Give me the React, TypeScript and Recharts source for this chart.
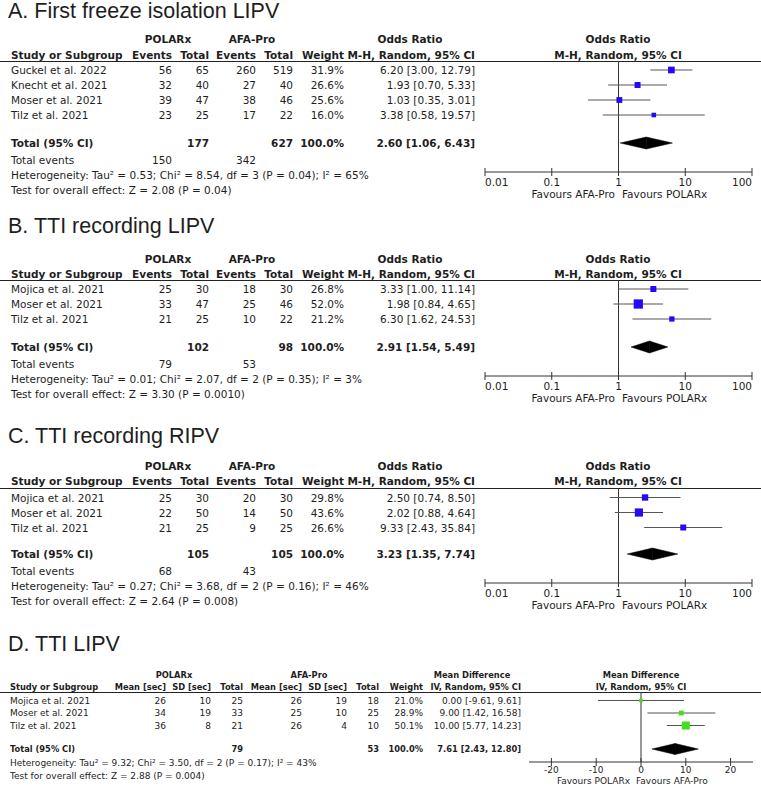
import React from 'react'
import { ScatterChart, Scatter, XAxis, YAxis, ReferenceLine, ReferenceArea, ErrorBar } from 'recharts'

const FONT = '"DejaVu Sans", Verdana, sans-serif'
const TITLE_FONT = '"Liberation Sans", Arial, sans-serif'
const INK = '#1e1e1e'

// A. First freeze isolation LIPV
const studiesA = ['Guckel et al. 2022', 'Knecht et al. 2021', 'Moser et al. 2021', 'Tilz et al. 2021']
const polarEventsA = [56, 32, 39, 23]
const polarTotalA = [65, 40, 47, 25]
const afaEventsA = [260, 27, 38, 17]
const afaTotalA = [519, 40, 46, 22]
const weightA = [31.9, 26.6, 25.6, 16.0]
const orA = [6.2, 1.93, 1.03, 3.38]
const loA = [3.0, 0.7, 0.35, 0.58]
const hiA = [12.79, 5.33, 3.01, 19.57]
const pooledA = [2.6, 1.06, 6.43]
const totalsA = [177, 627]
const totalEventsA = [150, 342]
const hetA = 'Heterogeneity: Tau² = 0.53; Chi² = 8.54, df = 3 (P = 0.04); I² = 65%'
const testA = 'Test for overall effect: Z = 2.08 (P = 0.04)'

// B. TTI recording LIPV
const studiesB = ['Mojica et al. 2021', 'Moser et al. 2021', 'Tilz et al. 2021']
const polarEventsB = [25, 33, 21]
const polarTotalB = [30, 47, 25]
const afaEventsB = [18, 25, 10]
const afaTotalB = [30, 46, 22]
const weightB = [26.8, 52.0, 21.2]
const orB = [3.33, 1.98, 6.3]
const loB = [1.0, 0.84, 1.62]
const hiB = [11.14, 4.65, 24.53]
const pooledB = [2.91, 1.54, 5.49]
const totalsB = [102, 98]
const totalEventsB = [79, 53]
const hetB = 'Heterogeneity: Tau² = 0.01; Chi² = 2.07, df = 2 (P = 0.35); I² = 3%'
const testB = 'Test for overall effect: Z = 3.30 (P = 0.0010)'

// C. TTI recording RIPV
const studiesC = ['Mojica et al. 2021', 'Moser et al. 2021', 'Tilz et al. 2021']
const polarEventsC = [25, 22, 21]
const polarTotalC = [30, 50, 25]
const afaEventsC = [20, 14, 9]
const afaTotalC = [30, 50, 25]
const weightC = [29.8, 43.6, 26.6]
const orC = [2.5, 2.02, 9.33]
const loC = [0.74, 0.88, 2.43]
const hiC = [8.5, 4.64, 35.84]
const pooledC = [3.23, 1.35, 7.74]
const totalsC = [105, 105]
const totalEventsC = [68, 43]
const hetC = 'Heterogeneity: Tau² = 0.27; Chi² = 3.68, df = 2 (P = 0.16); I² = 46%'
const testC = 'Test for overall effect: Z = 2.64 (P = 0.008)'

// D. TTI LIPV (mean difference)
const studiesD = ['Mojica et al. 2021', 'Moser et al. 2021', 'Tilz et al. 2021']
const polarMeanD = [26, 34, 36]
const polarSdD = [10, 19, 8]
const polarTotalD = [25, 33, 21]
const afaMeanD = [26, 25, 26]
const afaSdD = [19, 10, 4]
const afaTotalD = [18, 25, 10]
const weightD = [21.0, 28.9, 50.1]
const mdD = [0.0, 9.0, 10.0]
const loD = [-9.61, 1.42, 5.77]
const hiD = [9.61, 16.58, 14.23]
const pooledD = [7.61, 2.43, 12.8]
const totalsD = [79, 53]
const hetD = 'Heterogeneity: Tau² = 9.32; Chi² = 3.50, df = 2 (P = 0.17); I² = 43%'
const testD = 'Test for overall effect: Z = 2.88 (P = 0.004)'

const orTicks = [0.01, 0.1, 1, 10, 100]
const mdTicks = [-20, -10, 0, 10, 20]

const ci = (e: number, l: number, h: number) => `${e.toFixed(2)} [${l.toFixed(2)}, ${h.toFixed(2)}]`
const pct = (w: number) => `${w.toFixed(1)}%`

function T({ x, y, a = 'l', b = false, s = 10.5, f = FONT, children }: any) {
  const tx = a === 'r' ? '-100%' : a === 'c' ? '-50%' : '0'
  return (
    <div
      style={{
        position: 'absolute', left: x, top: y, transform: `translate(${tx},-50%)`,
        whiteSpace: 'nowrap', lineHeight: 1, fontSize: s, fontFamily: f,
        fontWeight: b ? 'bold' : 'normal', color: INK
      }}
    >
      {children}
    </div>
  )
}

const HLine = ({ y }: { y: number }) => (
  <div style={{ position: 'absolute', left: 0, top: y, width: 761, height: 1, background: '#222' }} />
)

const leftHalf = (r: any) => (
  <polygon points={`${r.x},${r.y + r.height / 2} ${r.x + r.width},${r.y} ${r.x + r.width},${r.y + r.height}`} fill="#000" stroke="#000" strokeWidth={0.5} />
)
const rightHalf = (r: any) => (
  <polygon points={`${r.x},${r.y} ${r.x + r.width},${r.y + r.height / 2} ${r.x},${r.y + r.height}`} fill="#000" stroke="#000" strokeWidth={0.5} />
)

function Forest(p: any) {
  const M = 24
  const AX = 26
  const plotH = p.axisY - p.top
  const data = p.est.map((v: number, i: number) => ({ x: v, y: i, w: p.weight[i], err: [v - p.lo[i], p.hi[i] - v] }))
  const yTop = (p.top - p.firstRow) / p.step
  const yBottom = (p.axisY - p.firstRow) / p.step
  const yTotal = (p.totalY - p.firstRow) / p.step
  const h = p.halfH / p.step
  const [pe, pl, ph] = p.pooled
  const n = p.ticks.length

  const tick = (t: any) => {
    const anchor = p.edgeAnchor ? (t.index === 0 ? 'start' : t.index === n - 1 ? 'end' : 'middle') : 'middle'
    return (
      <g>
        <line x1={t.x} x2={t.x} y1={t.y - 4} y2={t.y + 4} stroke="#333" />
        <text x={t.x} y={t.y + p.labelDy} textAnchor={anchor} dominantBaseline="central" fontSize={p.fs} fontFamily={FONT} fill={INK}>
          {String(t.payload.value)}
        </text>
      </g>
    )
  }

  return (
    <div style={{ position: 'absolute', left: p.left - M, top: p.top }}>
      <ScatterChart width={p.right - p.left + 2 * M} height={plotH + AX} margin={{ top: 0, right: M, bottom: 0, left: M }}>
        <XAxis
          type="number" dataKey="x" scale={p.log ? 'log' : 'linear'} domain={p.domain} ticks={p.ticks}
          allowDataOverflow interval={0} tickLine={false} tickSize={0} tickMargin={0} height={AX}
          stroke="#333" tick={tick}
        />
        <YAxis type="number" dataKey="y" domain={[yTop, yBottom]} reversed hide allowDataOverflow />
        <ReferenceLine x={p.nullValue} stroke="#333" />
        <ReferenceArea x1={pl} x2={pe} y1={yTotal - h} y2={yTotal + h} shape={leftHalf} />
        <ReferenceArea x1={pe} x2={ph} y1={yTotal - h} y2={yTotal + h} shape={rightHalf} />
        <Scatter
          data={data}
          isAnimationActive={false}
          shape={(s: any) => {
            const d = p.side(s.payload.w)
            return <rect x={s.cx - d / 2} y={s.cy - d / 2} width={d} height={d} fill={p.color} />
          }}
        >
          <ErrorBar dataKey="err" direction="x" width={0} stroke="#555" strokeWidth={1} isAnimationActive={false} />
        </Scatter>
      </ScatterChart>
    </div>
  )
}

// binary (odds ratio) panel columns, right edges
const COL = { study: 11, pEv: 172, pTot: 209, aEv: 256, aTot: 293, wt: 344, ci: 475 }

function OddsPanel(p: any) {
  const y0 = p.lineY
  const rowY = (i: number) => p.firstRow + i * 15
  return (
    <>
      <T x={8} y={p.titleY} s={21.5} f={TITLE_FONT}>{p.title}</T>
      <T x={168} y={p.h1} a="c" b>POLARx</T>
      <T x={252} y={p.h1} a="c" b>AFA-Pro</T>
      <T x={410} y={p.h1} a="c" b>Odds Ratio</T>
      <T x={618} y={p.h1} a="c" b>Odds Ratio</T>
      <T x={COL.study} y={p.h2} b>Study or Subgroup</T>
      <T x={COL.pEv} y={p.h2} a="r" b>Events</T>
      <T x={COL.pTot} y={p.h2} a="r" b>Total</T>
      <T x={COL.aEv} y={p.h2} a="r" b>Events</T>
      <T x={COL.aTot} y={p.h2} a="r" b>Total</T>
      <T x={COL.wt} y={p.h2} a="r" b>Weight</T>
      <T x={COL.ci} y={p.h2} a="r" b>M-H, Random, 95% CI</T>
      <T x={618} y={p.h2} a="c" b>M-H, Random, 95% CI</T>
      <HLine y={y0} />
      {p.studies.map((s: string, i: number) => (
        <React.Fragment key={s}>
          <T x={COL.study} y={rowY(i)}>{s}</T>
          <T x={COL.pEv} y={rowY(i)} a="r">{p.pe[i]}</T>
          <T x={COL.pTot} y={rowY(i)} a="r">{p.pt[i]}</T>
          <T x={COL.aEv} y={rowY(i)} a="r">{p.ae[i]}</T>
          <T x={COL.aTot} y={rowY(i)} a="r">{p.at[i]}</T>
          <T x={COL.wt} y={rowY(i)} a="r">{pct(p.w[i])}</T>
          <T x={COL.ci} y={rowY(i)} a="r">{ci(p.est[i], p.lo[i], p.hi[i])}</T>
        </React.Fragment>
      ))}
      <T x={COL.study} y={p.totalY} b>Total (95% CI)</T>
      <T x={COL.pTot} y={p.totalY} a="r" b>{p.totals[0]}</T>
      <T x={COL.aTot} y={p.totalY} a="r" b>{p.totals[1]}</T>
      <T x={COL.wt} y={p.totalY} a="r" b>100.0%</T>
      <T x={COL.ci} y={p.totalY} a="r" b>{ci(p.pooled[0], p.pooled[1], p.pooled[2])}</T>
      <T x={COL.study} y={p.totalY + 16.5}>Total events</T>
      <T x={COL.pEv} y={p.totalY + 16.5} a="r">{p.totalEvents[0]}</T>
      <T x={COL.aEv} y={p.totalY + 16.5} a="r">{p.totalEvents[1]}</T>
      <T x={COL.study} y={p.totalY + 31.5}>{p.het}</T>
      <T x={COL.study} y={p.totalY + 46.5}>{p.test}</T>
      <Forest
        left={485} right={752} top={y0} axisY={p.axisY} firstRow={p.firstRow} step={15} totalY={p.totalY}
        est={p.est} lo={p.lo} hi={p.hi} weight={p.w} pooled={p.pooled}
        log domain={[0.01, 100]} ticks={orTicks} nullValue={1} color="#2408f8"
        side={(w: number) => 2.5 + 0.13 * w} halfH={6} fs={10.5} labelDy={10} edgeAnchor
      />
      <T x={615} y={p.axisY + 22} a="r">Favours AFA-Pro</T>
      <T x={622} y={p.axisY + 22}>Favours POLARx</T>
    </>
  )
}

const DCOL = { study: 10, pM: 166, pSd: 211, pTot: 243, aM: 302, aSd: 347, aTot: 379, wt: 423, ci: 521 }

function MeanPanel() {
  const s = 9
  const sb = 8.3
  const lineY = 692
  const firstRow = 700.5
  const step = 12.5
  const totalY = 749
  const axisY = 762
  const h1 = 674.5
  const h2 = 687
  const rowY = (i: number) => firstRow + i * step
  return (
    <>
      <T x={8} y={644.5} s={21.5} f={TITLE_FONT}>D. TTI LIPV</T>
      <T x={174} y={h1} a="c" b s={sb}>POLARx</T>
      <T x={309} y={h1} a="c" b s={sb}>AFA-Pro</T>
      <T x={472} y={h1} a="c" b s={sb}>Mean Difference</T>
      <T x={641} y={h1} a="c" b s={sb}>Mean Difference</T>
      <T x={DCOL.study} y={h2} b s={sb}>Study or Subgroup</T>
      <T x={DCOL.pM} y={h2} a="r" b s={sb}>Mean [sec]</T>
      <T x={DCOL.pSd} y={h2} a="r" b s={sb}>SD [sec]</T>
      <T x={DCOL.pTot} y={h2} a="r" b s={sb}>Total</T>
      <T x={DCOL.aM} y={h2} a="r" b s={sb}>Mean [sec]</T>
      <T x={DCOL.aSd} y={h2} a="r" b s={sb}>SD [sec]</T>
      <T x={DCOL.aTot} y={h2} a="r" b s={sb}>Total</T>
      <T x={DCOL.wt} y={h2} a="r" b s={sb}>Weight</T>
      <T x={DCOL.ci} y={h2} a="r" b s={sb}>IV, Random, 95% CI</T>
      <T x={641} y={h2} a="c" b s={sb}>IV, Random, 95% CI</T>
      <HLine y={lineY} />
      {studiesD.map((st, i) => (
        <React.Fragment key={st}>
          <T x={DCOL.study} y={rowY(i)} s={s}>{st}</T>
          <T x={DCOL.pM} y={rowY(i)} a="r" s={s}>{polarMeanD[i]}</T>
          <T x={DCOL.pSd} y={rowY(i)} a="r" s={s}>{polarSdD[i]}</T>
          <T x={DCOL.pTot} y={rowY(i)} a="r" s={s}>{polarTotalD[i]}</T>
          <T x={DCOL.aM} y={rowY(i)} a="r" s={s}>{afaMeanD[i]}</T>
          <T x={DCOL.aSd} y={rowY(i)} a="r" s={s}>{afaSdD[i]}</T>
          <T x={DCOL.aTot} y={rowY(i)} a="r" s={s}>{afaTotalD[i]}</T>
          <T x={DCOL.wt} y={rowY(i)} a="r" s={s}>{pct(weightD[i])}</T>
          <T x={DCOL.ci} y={rowY(i)} a="r" s={s}>{ci(mdD[i], loD[i], hiD[i])}</T>
        </React.Fragment>
      ))}
      <T x={DCOL.study} y={totalY} b s={sb}>Total (95% CI)</T>
      <T x={DCOL.pTot} y={totalY} a="r" b s={sb}>{totalsD[0]}</T>
      <T x={DCOL.aTot} y={totalY} a="r" b s={sb}>{totalsD[1]}</T>
      <T x={DCOL.wt} y={totalY} a="r" b s={sb}>100.0%</T>
      <T x={DCOL.ci} y={totalY} a="r" b s={sb}>{ci(pooledD[0], pooledD[1], pooledD[2])}</T>
      <T x={DCOL.study} y={762.5} s={s}>{hetD}</T>
      <T x={DCOL.study} y={775.5} s={s}>{testD}</T>
      <Forest
        left={529} right={753} top={lineY} axisY={axisY} firstRow={firstRow} step={step} totalY={totalY}
        est={mdD} lo={loD} hi={hiD} weight={weightD} pooled={pooledD}
        log={false} domain={[-25, 25]} ticks={mdTicks} nullValue={0} color="#44dd22"
        side={(w: number) => 0.5 + 0.15 * w} halfH={5.5} fs={9} labelDy={8} edgeAnchor={false}
      />
      <T x={630} y={781} a="r" s={s}>Favours POLARx</T>
      <T x={636} y={781} s={s}>Favours AFA-Pro</T>
    </>
  )
}

export default function App() {
  return (
    <div style={{ position: 'absolute', left: 0, top: 0, width: 761, height: 803, overflow: 'hidden', background: '#fff' }}>
      <OddsPanel
        title="A. First freeze isolation LIPV" titleY={12} h1={39} h2={54.5} lineY={61} firstRow={70} totalY={143} axisY={172}
        studies={studiesA} pe={polarEventsA} pt={polarTotalA} ae={afaEventsA} at={afaTotalA} w={weightA}
        est={orA} lo={loA} hi={hiA} pooled={pooledA} totals={totalsA} totalEvents={totalEventsA} het={hetA} test={testA}
      />
      <OddsPanel
        title="B. TTI recording LIPV" titleY={226.5} h1={259} h2={274} lineY={280} firstRow={289} totalY={347} axisY={376}
        studies={studiesB} pe={polarEventsB} pt={polarTotalB} ae={afaEventsB} at={afaTotalB} w={weightB}
        est={orB} lo={loB} hi={hiB} pooled={pooledB} totals={totalsB} totalEvents={totalEventsB} het={hetB} test={testB}
      />
      <OddsPanel
        title="C. TTI recording RIPV" titleY={436.5} h1={466} h2={481} lineY={488} firstRow={497.5} totalY={554} axisY={583}
        studies={studiesC} pe={polarEventsC} pt={polarTotalC} ae={afaEventsC} at={afaTotalC} w={weightC}
        est={orC} lo={loC} hi={hiC} pooled={pooledC} totals={totalsC} totalEvents={totalEventsC} het={hetC} test={testC}
      />
      <MeanPanel />
    </div>
  )
}
